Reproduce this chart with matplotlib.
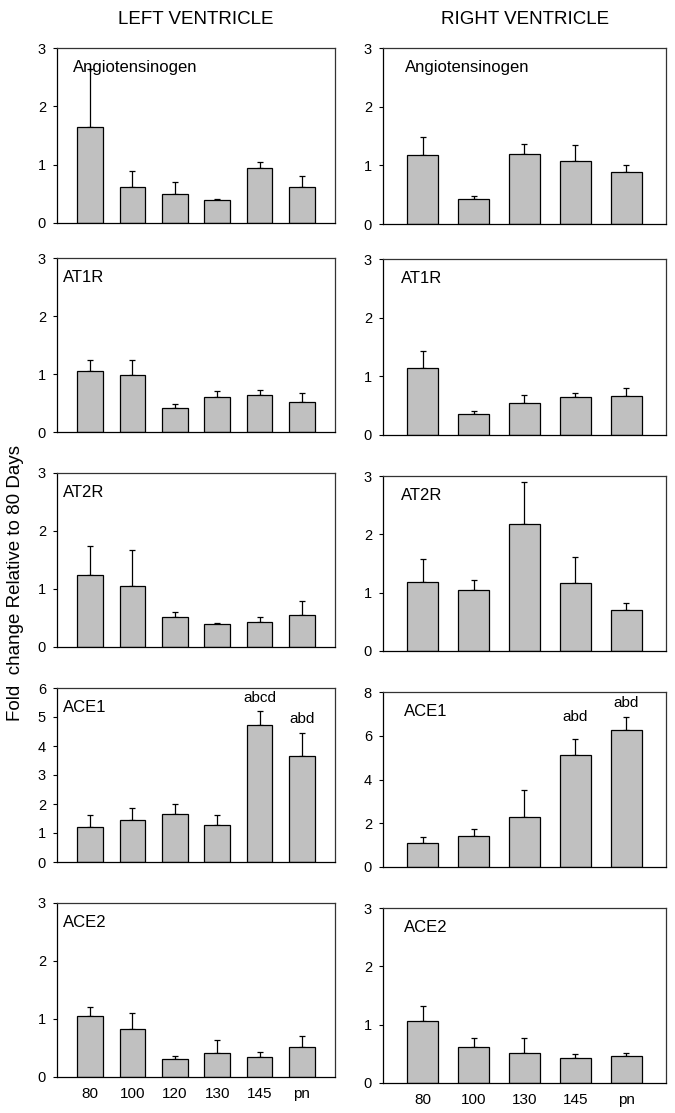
import matplotlib
matplotlib.use('Agg')
import matplotlib.pyplot as plt
import numpy as np

plt.rcParams['font.family'] = ['Liberation Sans', 'DejaVu Sans']

# groups (days)
left_groups = ['80', '100', '120', '130', '145', 'pn']
right_groups = ['80', '100', '130', '145', 'pn']

genes = ['Angiotensinogen', 'AT1R', 'AT2R', 'ACE1', 'ACE2']

# left ventricle: means and upper error (SE)
lv_ang = [1.65, 0.62, 0.50, 0.39, 0.94, 0.61]
lv_ang_se = [0.99, 0.28, 0.21, 0.03, 0.11, 0.19]
lv_at1r = [1.05, 0.98, 0.41, 0.60, 0.64, 0.52]
lv_at1r_se = [0.19, 0.27, 0.08, 0.11, 0.08, 0.15]
lv_at2r = [1.25, 1.06, 0.52, 0.40, 0.43, 0.55]
lv_at2r_se = [0.50, 0.61, 0.09, 0.01, 0.09, 0.25]
lv_ace1 = [1.20, 1.44, 1.67, 1.26, 4.72, 3.64]
lv_ace1_se = [0.41, 0.41, 0.32, 0.37, 0.50, 0.81]
lv_ace2 = [1.05, 0.83, 0.31, 0.41, 0.34, 0.52]
lv_ace2_se = [0.15, 0.27, 0.05, 0.23, 0.09, 0.18]

# right ventricle
rv_ang = [1.18, 0.43, 1.19, 1.08, 0.88]
rv_ang_se = [0.30, 0.04, 0.18, 0.26, 0.13]
rv_at1r = [1.14, 0.36, 0.55, 0.64, 0.67]
rv_at1r_se = [0.30, 0.05, 0.14, 0.08, 0.13]
rv_at2r = [1.19, 1.05, 2.17, 1.17, 0.71]
rv_at2r_se = [0.38, 0.17, 0.72, 0.44, 0.12]
rv_ace1 = [1.10, 1.43, 2.27, 5.14, 6.25]
rv_ace1_se = [0.25, 0.32, 1.24, 0.73, 0.61]
rv_ace2 = [1.07, 0.62, 0.51, 0.43, 0.46]
rv_ace2_se = [0.25, 0.15, 0.26, 0.07, 0.06]

# significance letters (panel ACE1) and the height they sit at
lv_ace1_sig = ['', '', '', '', 'abcd', 'abd']
lv_ace1_sig_y = [0, 0, 0, 0, 5.66, 4.93]
rv_ace1_sig = ['', '', '', 'abd', 'abd']
rv_ace1_sig_y = [0, 0, 0, 6.85, 7.50]

left_data = [(lv_ang, lv_ang_se), (lv_at1r, lv_at1r_se), (lv_at2r, lv_at2r_se),
             (lv_ace1, lv_ace1_se), (lv_ace2, lv_ace2_se)]
right_data = [(rv_ang, rv_ang_se), (rv_at1r, rv_at1r_se), (rv_at2r, rv_at2r_se),
              (rv_ace1, rv_ace1_se), (rv_ace2, rv_ace2_se)]
left_ymax = [3, 3, 3, 6, 3]
right_ymax = [3, 3, 3, 8, 3]

W, H = 675, 1113
fig = plt.figure(figsize=(W / 100, H / 100), dpi=100)

# axes boxes in pixels: (left, right) per column, (top, bottom) per row
left_x = (57, 335)
right_x = (383, 666)
left_rows = [(48, 223), (258, 432), (473, 647), (688, 862), (903, 1077)]
right_rows = [(48, 224), (259, 435), (476, 651), (692, 867), (908, 1083)]
left_label_x = [0.058, 0.022, 0.022, 0.022, 0.022]
right_label_x = [0.078, 0.064, 0.064, 0.074, 0.074]


def px_axes(x, y):
    return fig.add_axes([x[0] / W, 1 - y[1] / H, (x[1] - x[0]) / W, (y[1] - y[0]) / H])


def draw_panel(ax, groups, vals, se, ymax, label, lx, last, sig=None, sig_y=None):
    pos = np.arange(len(groups))
    ax.bar(pos, vals, width=0.61, color='#c0c0c0', edgecolor='black', linewidth=0.9, zorder=2)
    ax.errorbar(pos, vals, yerr=[np.zeros(len(vals)), se], fmt='none',
                ecolor='black', elinewidth=0.9, capsize=2.3, capthick=0.9, zorder=1)
    ax.set_xlim(-0.78, len(groups) - 0.22)
    ax.set_ylim(0, ymax)
    step = 1 if ymax <= 6 else 2
    ax.set_yticks(np.arange(0, ymax + 1, step))
    ax.tick_params(axis='y', direction='out', length=3, width=0.8, labelsize=10.5, pad=5)
    ax.tick_params(axis='x', length=0, labelsize=11, pad=7)
    ax.set_xticks(pos)
    if last:
        ax.set_xticklabels(groups)
    else:
        ax.set_xticklabels([])
    for s in ax.spines.values():
        s.set_linewidth(0.9)
        s.set_color('#333333')
    ax.spines['left'].set_color('black')
    ax.spines['bottom'].set_color('black')
    ax.text(lx, 0.89, label, transform=ax.transAxes, fontsize=12, va='center')
    if sig:
        for p, t, ty in zip(pos, sig, sig_y):
            if t:
                ax.text(p, ty, t, ha='center', va='center', fontsize=11)


for i in range(5):
    is_ace1 = genes[i] == 'ACE1'
    axl = px_axes(left_x, left_rows[i])
    draw_panel(axl, left_groups, left_data[i][0], left_data[i][1], left_ymax[i], genes[i],
               left_label_x[i], i == 4,
               lv_ace1_sig if is_ace1 else None, lv_ace1_sig_y if is_ace1 else None)
    axr = px_axes(right_x, right_rows[i])
    draw_panel(axr, right_groups, right_data[i][0], right_data[i][1], right_ymax[i], genes[i],
               right_label_x[i], i == 4,
               rv_ace1_sig if is_ace1 else None, rv_ace1_sig_y if is_ace1 else None)

fig.text(196 / W, 1 - 20 / H, 'LEFT VENTRICLE', ha='center', va='center', fontsize=13.5)
fig.text(525 / W, 1 - 20 / H, 'RIGHT VENTRICLE', ha='center', va='center', fontsize=13.5)
fig.text(16 / W, 1 - 583 / H, 'Fold  change Relative to 80 Days', rotation=90,
         ha='center', va='center', fontsize=13.5)

fig.savefig('out.png', dpi=100)
